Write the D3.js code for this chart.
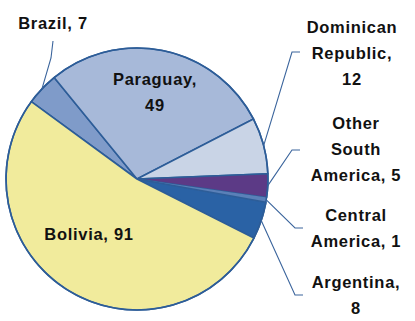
<!DOCTYPE html>
<html>
<head>
<meta charset="utf-8">
<script src="https://cdn.jsdelivr.net/npm/d3@7"></script>
<style>
  body { margin: 0; background: #fff; }
  text { font-family: "Liberation Sans", Arial, sans-serif; font-weight: bold; fill: #111; }
</style>
</head>
<body>
<svg id="chart" width="415" height="321"></svg>
<script>
const countries = ["Brazil", "Paraguay", "Dominican Republic", "Other South America", "Central America", "Argentina", "Bolivia"];
const counts = [7, 49, 12, 5, 1, 8, 91];
const sliceColors = ["#7f9bc9", "#a7b9d9", "#c9d4e6", "#5c3a86", "#5a80b8", "#2a62a5", "#f1eb9c"];
const labelLines = [
  ["Brazil, 7"],
  ["Paraguay,", "49"],
  ["Dominican", "Republic,", "12"],
  ["Other", "South", "America, 5"],
  ["Central", "America, 1"],
  ["Argentina,", "8"],
  ["Bolivia, 91"]
];

const svg = d3.select("#chart");
const cx = 137, cy = 179, radius = 131;
const startDeg = -53.8;

const data = countries.map((c, i) => ({ name: c, value: counts[i], color: sliceColors[i], lines: labelLines[i] }));

const pie = d3.pie()
  .value(d => d.value)
  .sort(null)
  .startAngle(startDeg * Math.PI / 180)
  .endAngle((startDeg + 360) * Math.PI / 180);

const arc = d3.arc().innerRadius(0).outerRadius(radius);
const arcs = pie(data);

const g = svg.append("g").attr("transform", `translate(${cx},${cy})`);

g.selectAll("path")
  .data(arcs)
  .join("path")
  .attr("d", arc)
  .attr("fill", d => d.data.color)
  .attr("stroke", d => d.data.name === "Central America" ? "none" : "#2d5d98")
  .attr("stroke-width", 1.6)
  .attr("stroke-linejoin", "round");

// outer rim
g.append("circle")
  .attr("r", radius)
  .attr("fill", "none")
  .attr("stroke", "#2d5d98")
  .attr("stroke-width", 1.6);

// point on the rim at the middle of each slice
function rimPoint(d, r) {
  const a = (d.startAngle + d.endAngle) / 2;
  return [cx + Math.sin(a) * r, cy - Math.cos(a) * r];
}

// label anchors (centre x, first line y) and leader elbows
const labelPos = {
  "Brazil": { x: 53, y: 29, leader: [[53, 41], [51, 58]] },
  "Paraguay": { x: 155, y: 85 },
  "Dominican Republic": { x: 352, y: 33, leader: [[300, 52], [292, 52]] },
  "Other South America": { x: 356, y: 129, leader: [[300, 150], [292, 150]] },
  "Central America": { x: 356, y: 221, leader: [[303, 228], [295, 228]] },
  "Argentina": { x: 356, y: 288, leader: [[303, 295], [295, 295]] },
  "Bolivia": { x: 89, y: 240 }
};

const lineGen = d3.line();
arcs.forEach(d => {
  const p = labelPos[d.data.name];
  if (!p.leader) return;
  const pts = p.leader.concat([rimPoint(d, radius)]);
  svg.append("path")
    .attr("d", lineGen(pts))
    .attr("fill", "none")
    .attr("stroke", "#3a649c")
    .attr("stroke-width", 1.1);
});

arcs.forEach(d => {
  const p = labelPos[d.data.name];
  const t = svg.append("text")
    .attr("text-anchor", "middle")
    .attr("font-size", 16.5)
    .attr("letter-spacing", 0.7);
  d.data.lines.forEach((ln, i) => {
    t.append("tspan")
      .attr("x", p.x)
      .attr("y", p.y + i * 26)
      .text(ln);
  });
});
</script>
</body>
</html>
